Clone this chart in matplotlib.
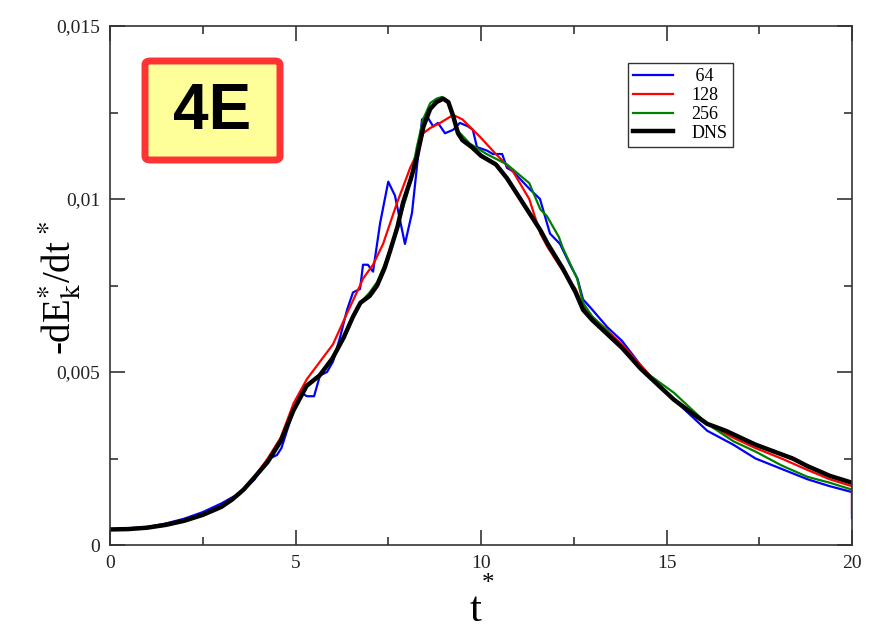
import matplotlib.pyplot as plt
from matplotlib.patches import FancyBboxPatch

plt.rcParams['font.family'] = ['Liberation Serif', 'DejaVu Serif']
plt.rcParams['mathtext.fontset'] = 'stix'

# dissipation rate -dEk*/dt* vs t*, three LES resolutions and DNS
t_64 = [0, 1, 1.5, 2, 2.5, 3, 3.5, 3.9, 4.12, 4.3, 4.5, 4.62, 4.8, 4.95, 5.14,
        5.31, 5.5, 5.66, 5.85, 6.01, 6.2, 6.39, 6.55, 6.74, 6.82, 6.95, 7.09,
        7.28, 7.5, 7.68, 7.95, 8.14, 8.3, 8.41, 8.54, 8.71, 8.84, 9.03, 9.25,
        9.43, 9.65, 9.78, 9.89, 10.16, 10.32, 10.57, 10.7, 10.86, 11.3, 11.59,
        11.86, 12.13, 12.4, 12.6, 12.75, 13.0, 13.4, 13.8, 14.3, 14.8, 15.3,
        16.1, 16.8, 17.4, 18.1, 18.8, 19.4, 20, 20]
e_64 = [0.00045, 0.00052, 0.00062, 0.00076, 0.00095, 0.0012, 0.0015, 0.0019,
        0.0023, 0.0025, 0.0026, 0.0028, 0.0034, 0.0039, 0.0044, 0.0043, 0.0043,
        0.0049, 0.0050, 0.0053, 0.0060, 0.0068, 0.0073, 0.0074, 0.0081, 0.0081,
        0.0079, 0.0093, 0.0105, 0.0101, 0.0087, 0.0096, 0.0112, 0.0123, 0.0124,
        0.0121, 0.0122, 0.0119, 0.0120, 0.0122, 0.0121, 0.0120, 0.0115, 0.0114,
        0.0113, 0.0113, 0.0109, 0.0108, 0.0103, 0.0100, 0.0090, 0.0087, 0.0081,
        0.0077, 0.0071, 0.0068, 0.0063, 0.0059, 0.0052, 0.0046, 0.0041, 0.0033,
        0.0029, 0.0025, 0.0022, 0.0019, 0.0017, 0.00153, 0.00078]

t_128 = [0, 1, 2, 2.5, 3, 3.5, 3.85, 4.25, 4.6, 4.95, 5.31, 5.66, 6.01, 6.39,
         6.74, 6.82, 7.09, 7.36, 7.55, 7.74, 7.9, 8.09, 8.27, 8.44, 8.63, 8.9,
         9.25, 9.5, 9.97, 10.4, 10.86, 11.3, 11.6, 11.8, 12.1, 12.35, 12.55,
         12.75, 13.0, 13.4, 13.8, 14.3, 14.8, 15.3, 16.1, 16.8, 17.4, 18.1,
         18.8, 19.4, 20, 20]
e_128 = [0.00045, 0.00051, 0.00072, 0.0009, 0.00113, 0.0015, 0.0019, 0.0025,
         0.0031, 0.0041, 0.0048, 0.0053, 0.0058, 0.0067, 0.0075, 0.0077, 0.0081,
         0.0087, 0.0093, 0.0099, 0.01035, 0.0109, 0.0113, 0.0119, 0.01205,
         0.0122, 0.01243, 0.0123, 0.0118, 0.0113, 0.0108, 0.0100, 0.0090,
         0.0086, 0.0081, 0.0077, 0.0074, 0.0069, 0.0066, 0.0062, 0.0058, 0.0052,
         0.0046, 0.0041, 0.0035, 0.0031, 0.0028, 0.0025, 0.00217, 0.0019,
         0.0017, 0.00092]

t_256 = [0, 1, 2, 2.5, 3, 3.5, 3.85, 4.25, 4.6, 4.95, 5.3, 5.65, 6.0, 6.3,
         6.55, 6.75, 7.0, 7.2, 7.4, 7.6, 7.8, 8.0, 8.15, 8.27, 8.44, 8.63, 8.8,
         8.95, 9.1, 9.35, 9.7, 10.15, 10.7, 11.3, 11.6, 11.78, 12.1, 12.2,
         12.59, 12.75, 13.0, 13.4, 13.8, 14.3, 15.2, 16.1, 16.8, 17.4, 18.1,
         18.8, 19.4, 20]
e_256 = [0.00045, 0.00051, 0.00071, 0.00088, 0.00111, 0.00147, 0.0019, 0.0024,
         0.0030, 0.0039, 0.0046, 0.0049, 0.0054, 0.0060, 0.0066, 0.0070, 0.0073,
         0.0076, 0.0081, 0.0087, 0.0094, 0.0101, 0.0108, 0.0115, 0.0123,
         0.01277, 0.0129, 0.01295, 0.0128, 0.0120, 0.0116, 0.0113, 0.0110,
         0.01046, 0.0097, 0.0095, 0.0089, 0.0086, 0.0077, 0.0070, 0.0066,
         0.0062, 0.0057, 0.0051, 0.0044, 0.0035, 0.0030, 0.0027, 0.0023,
         0.00197, 0.0018, 0.0016]

t_dns = [0, 0.5, 1, 1.5, 2, 2.5, 3, 3.3, 3.6, 3.85, 4.25, 4.6, 4.95, 5.3, 5.65,
         6.0, 6.3, 6.55, 6.75, 7.0, 7.2, 7.4, 7.55, 7.75, 7.9, 8.1, 8.27, 8.45,
         8.63, 8.8, 8.98, 9.12, 9.25, 9.38, 9.5, 9.75, 10.0, 10.4, 10.7, 11.0,
         11.3, 11.6, 11.8, 12.2, 12.55, 12.75, 13.0, 13.4, 13.8, 14.3, 14.8,
         15.2, 15.7, 16.1, 16.6, 17.0, 17.4, 17.9, 18.4, 18.8, 19.4, 20]
e_dns = [0.00045, 0.00046, 0.00050, 0.00058, 0.00070, 0.00087, 0.00110,
         0.00132, 0.00160, 0.0019, 0.0024, 0.0030, 0.0039, 0.0046, 0.0049,
         0.0054, 0.0060, 0.0066, 0.0070, 0.0072, 0.0075, 0.0080, 0.0085,
         0.0092, 0.0099, 0.01055, 0.0112, 0.0121, 0.0126, 0.0128, 0.0129,
         0.0128, 0.0124, 0.0119, 0.0117, 0.0115, 0.01125, 0.0110, 0.0106,
         0.0101, 0.0096, 0.0091, 0.0087, 0.0080, 0.0073, 0.0068, 0.0065,
         0.0061, 0.0057, 0.0051, 0.0046, 0.0042, 0.0038, 0.0035, 0.0033,
         0.0031, 0.0029, 0.0027, 0.0025, 0.00228, 0.0020, 0.0018]

y_ticks = [0, 0.005, 0.01, 0.015]
y_labels = ['0', '0,005', '0,01', '0,015']
x_ticks = [0, 5, 10, 15, 20]
x_labels = ['0', '5', '10', '15', '20']

fig = plt.figure(figsize=(8.74, 6.29), dpi=100)
ax = fig.add_axes([110 / 874, 84 / 629, 742 / 874, 519 / 629])

ax.plot(t_64, e_64, color='#0000ff', lw=1.6, label=' 64')
ax.plot(t_128, e_128, color='#ff0000', lw=1.6, label='128')
ax.plot(t_256, e_256, color='#008000', lw=1.6, label='256')
ax.plot(t_dns, e_dns, color='black', lw=3.2, label='DNS')

ax.set_xlim(0, 20)
ax.set_ylim(0, 0.015)
ax.set_xticks(x_ticks)
ax.set_xticklabels(x_labels)
ax.set_yticks(y_ticks)
ax.set_yticklabels(y_labels)
ax.set_xticks([2.5, 7.5, 12.5, 17.5], minor=True)
ax.set_yticks([0.0025, 0.0075, 0.0125], minor=True)
ax.tick_params(which='both', direction='in', top=True, right=True,
               labelsize=14, colors='#222222', width=1.1)
ax.tick_params(which='major', length=11, pad=7)
ax.tick_params(which='minor', length=6)
for s in ax.spines.values():
    s.set_linewidth(1.2)
    s.set_color('#333333')

ax.set_ylabel(r'-dE$_\mathrm{k}^{*}$/dt$^{\,*}$', fontsize=28)
ax.yaxis.set_label_coords(-0.036, 0.495)
ax.text(0.492, -0.127, 't', transform=ax.transAxes, fontsize=31,
        ha='center', va='center')
ax.text(0.509, -0.075, '*', transform=ax.transAxes, fontsize=18,
        ha='center', va='center')

leg = ax.legend(loc='upper left', bbox_to_anchor=(0.698, 0.929), fontsize=13,
                frameon=True, fancybox=False, handlelength=2.2,
                handletextpad=1.0, labelspacing=0.1, borderpad=0.3,
                borderaxespad=0)
leg.get_frame().set_edgecolor('black')
leg.get_frame().set_linewidth(1.0)

# the "4E" panel tag
box = FancyBboxPatch((145 / 874, 1 - 160 / 629), 135 / 874, 99 / 629,
                     boxstyle='round,pad=0,rounding_size=0.006',
                     transform=fig.transFigure, facecolor='#ffff99',
                     edgecolor='#ff3333', linewidth=5, zorder=5)
fig.patches.append(box)
fig.text(212 / 874, 1 - 112 / 629, '4E', fontsize=46, fontweight='bold',
         family='Liberation Sans', ha='center', va='center', zorder=6)

fig.savefig('out.png', dpi=100)
